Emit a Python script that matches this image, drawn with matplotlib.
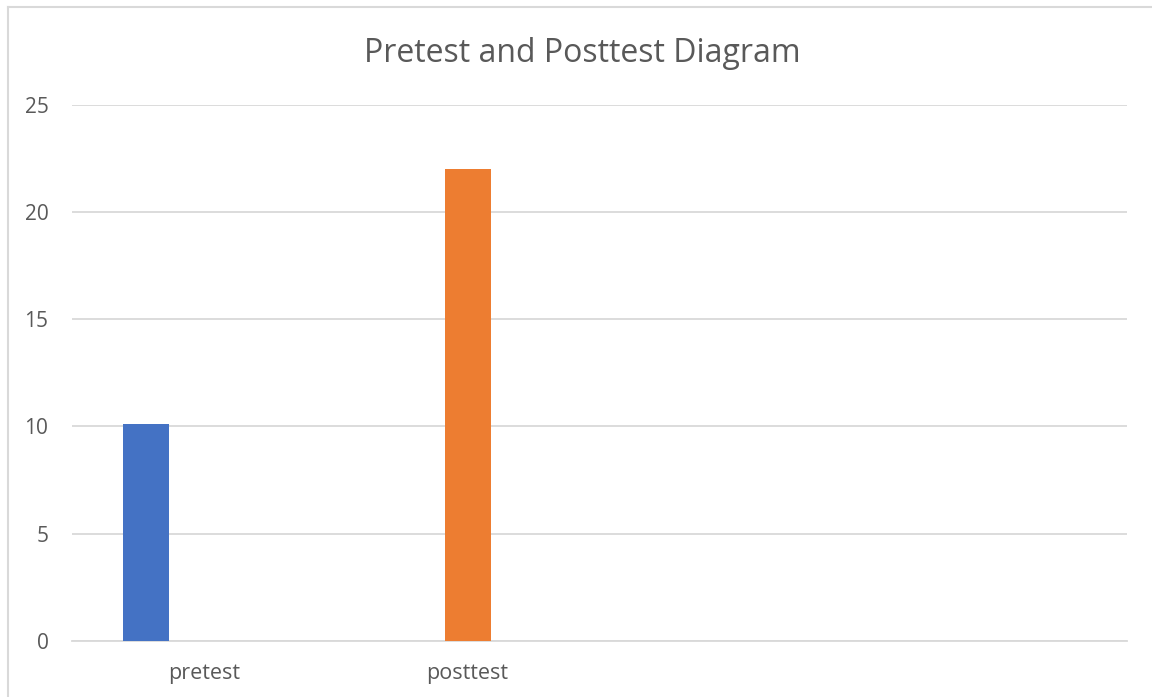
import matplotlib
matplotlib.use("Agg")
import matplotlib.pyplot as plt
from matplotlib.lines import Line2D

# Chart data
categories = ["pretest", "posttest", "", ""]
series_names = ["pretest", "posttest"]
series_values = [10.1, 22]
series_colors = ["#4472C4", "#ED7D31"]
y_ticks = [0, 5, 10, 15, 20, 25]
title = "Pretest and Posttest Diagram"

# Where each series sits inside its category slot (category units)
series_category = [0, 1]
series_offset = [-0.22, 0.0]
bar_width = 0.174

text_color = "#595959"
grid_color = "#D9D9D9"
font = ["Open Sans", "DejaVu Sans"]

fig = plt.figure(figsize=(11.52, 6.97), dpi=100)
fig.patch.set_facecolor("white")
ax = fig.add_axes([72 / 1152, 1 - 640.7 / 697, (1127 - 72) / 1152, (640.7 - 105) / 697])

for name, cat, off, val, col in zip(series_names, series_category, series_offset,
                                    series_values, series_colors):
    ax.bar(cat + 0.5 + off, val, width=bar_width, color=col, zorder=3, label=name)

ax.set_xlim(0, len(categories))
ax.set_ylim(0, 25)
ax.set_yticks(y_ticks)
ax.set_yticklabels([str(t) for t in y_ticks], fontsize=15, color=text_color, family=font)
ax.set_xticks([i + 0.5 for i in range(len(categories))])
ax.set_xticklabels(categories, fontsize=15.5, color=text_color, family=font)
ax.tick_params(axis="both", length=0)
ax.tick_params(axis="y", pad=17)
ax.tick_params(axis="x", pad=16)

ax.yaxis.grid(True, color=grid_color, linewidth=1.3, zorder=0)
ax.set_axisbelow(True)
for s in ["top", "right", "left"]:
    ax.spines[s].set_visible(False)
ax.spines["bottom"].set_color(grid_color)
ax.spines["bottom"].set_linewidth(1.3)

fig.text(582 / 1152, 1 - 54 / 697, title, ha="center", va="center",
         fontsize=23, color=text_color, family=font)

# Chart-area border (left and top edges)
fig.add_artist(Line2D([8 / 1152, 8 / 1152], [0, 1 - 7 / 697], color=grid_color,
                      linewidth=1.5, transform=fig.transFigure))
fig.add_artist(Line2D([8 / 1152, 1], [1 - 7 / 697, 1 - 7 / 697], color=grid_color,
                      linewidth=1.5, transform=fig.transFigure))

fig.savefig("out.png", dpi=100, facecolor="white")
